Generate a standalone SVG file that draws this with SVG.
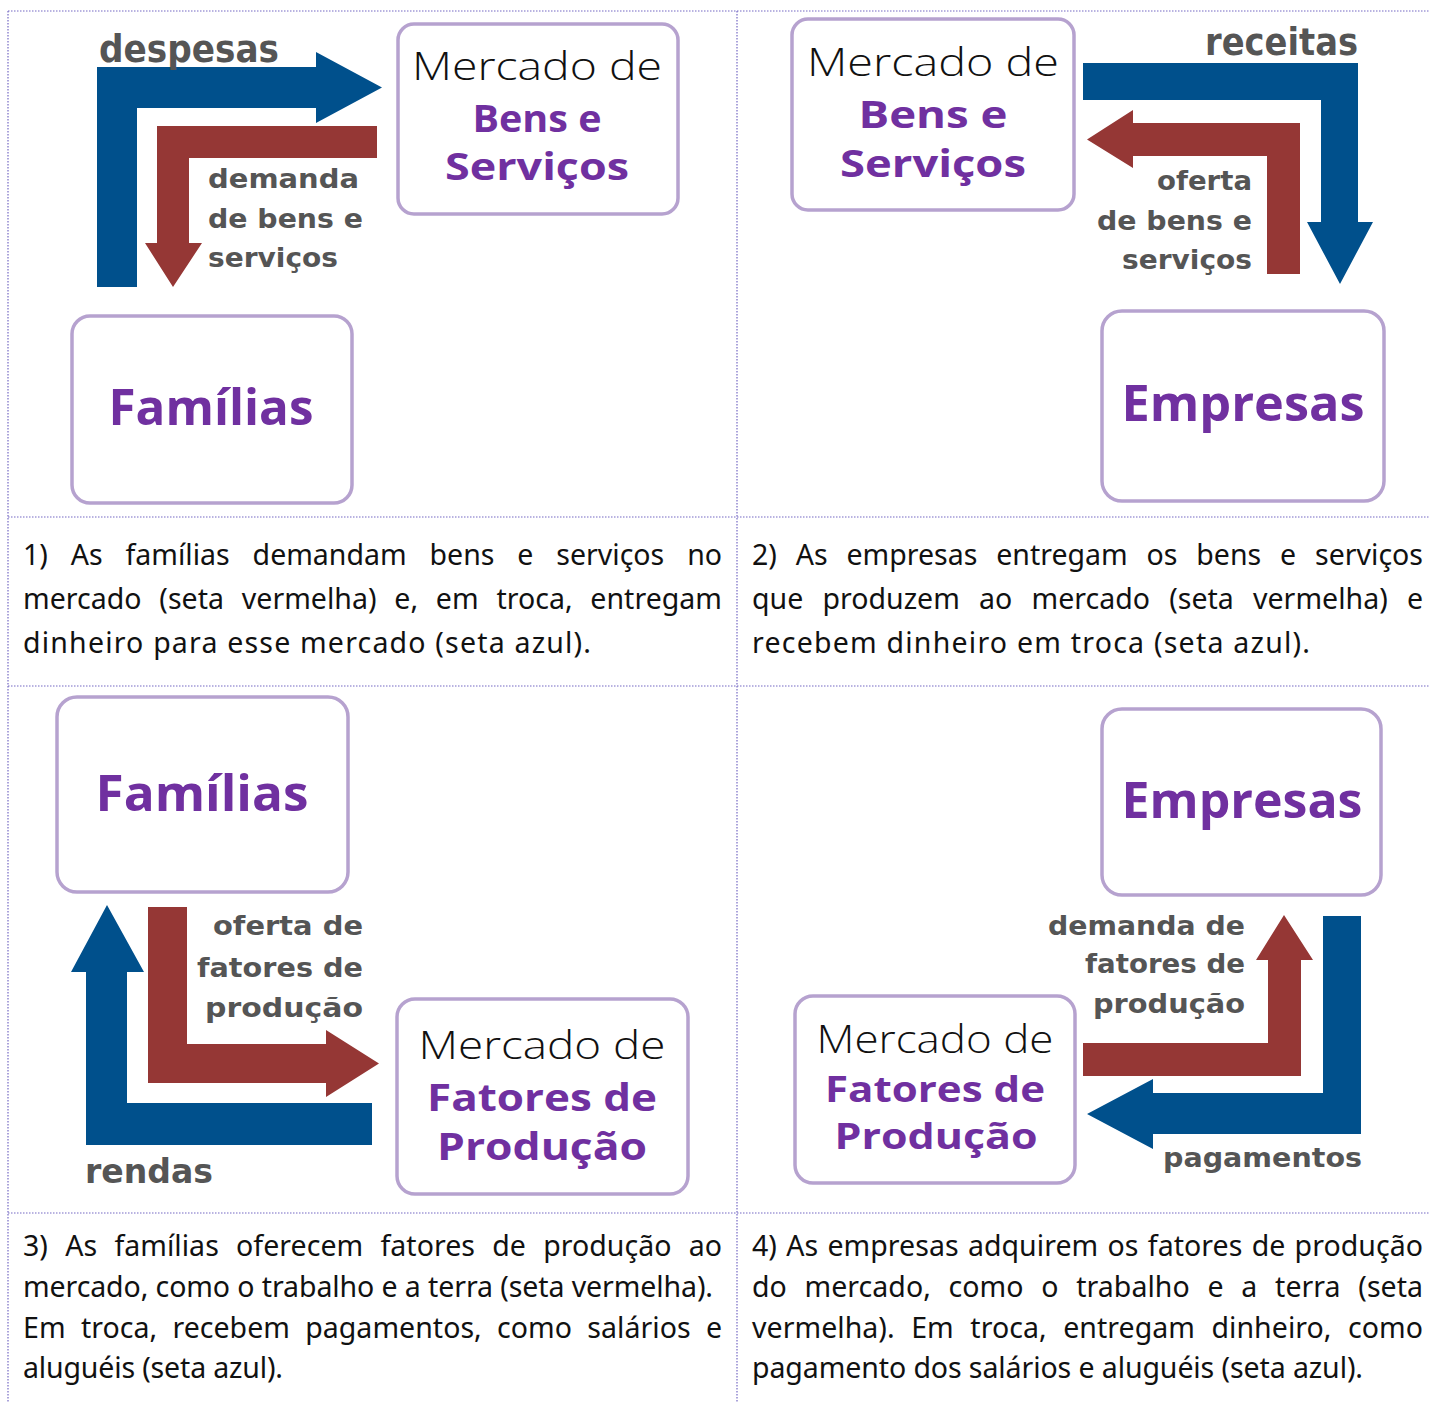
<svg xmlns="http://www.w3.org/2000/svg" width="1429" height="1402" viewBox="0 0 1429 1402">
<style>
.grid{stroke:#7468c4;stroke-width:1.2;stroke-dasharray:1.5 1.5;fill:none}
.box{fill:#fff;stroke:#b6a2cf;stroke-width:3.5}
.mk{font-family:"Open Sans","Liberation Sans",sans-serif;font-weight:300;font-size:38px;fill:#111;text-anchor:middle}
.pb{font-family:"Open Sans","Liberation Sans",sans-serif;font-weight:700;font-size:38px;fill:#7030a0;text-anchor:middle}
.ps{font-size:35px}
.big{font-family:"Open Sans","Liberation Sans",sans-serif;font-weight:700;font-size:50px;fill:#7030a0;text-anchor:middle}
.lb{font-family:"DejaVu Sans","Liberation Sans",sans-serif;font-weight:700;font-size:27px;fill:#555}
.lbb{font-family:"DejaVu Sans","Liberation Sans",sans-serif;font-weight:700;font-size:37px;fill:#555}
.cap{font-family:"Noto Sans","Liberation Sans",sans-serif;font-size:28.5px;fill:#111}
.blue{fill:#00508c}
.red{fill:#953735}
</style>
<rect width="1429" height="1402" fill="#fff"/>
<g id="grid">
<line class="grid" x1="8" y1="11" x2="1429" y2="11"/>
<line class="grid" x1="8" y1="11" x2="8" y2="1402"/>
<line class="grid" x1="737" y1="11" x2="737" y2="1402"/>
<line class="grid" x1="8" y1="517" x2="1429" y2="517"/>
<line class="grid" x1="8" y1="686" x2="1429" y2="686"/>
<line class="grid" x1="8" y1="1213" x2="1429" y2="1213"/>
</g>
<g id="connectors">
<polygon class="blue" points="97,287 97,67 316,67 316,52 382,87.5 316,123 316,108 137,108 137,287"/>
<polygon class="red" points="377,126 157,126 157,243 145,243 173,287 202,243 189,243 189,158 377,158"/>
<polygon class="blue" points="1083,63 1358,63 1358,222 1373,222 1340,284 1307,222 1321,222 1321,100 1083,100"/>
<polygon class="red" points="1300,274 1267,274 1267,156 1133,156 1133,168 1087,139.5 1133,110 1133,123 1300,123"/>
<polygon class="blue" points="372,1145 86,1145 86,972 71,972 107,905 144,972 127,972 127,1103 372,1103"/>
<polygon class="red" points="148,907 187,907 187,1044 326,1044 326,1030 379,1063.5 326,1097 326,1083 148,1083"/>
<polygon class="red" points="1083,1043 1268,1043 1268,960 1256,960 1284,915 1313,960 1301,960 1301,1076 1083,1076"/>
<polygon class="blue" points="1323,916 1361,916 1361,1134 1153,1134 1153,1149 1087,1114 1153,1079 1153,1093 1323,1093"/>
</g>
<g id="labels">
<text class="lbb" x="99" y="62" textLength="180" lengthAdjust="spacingAndGlyphs">despesas</text>
<text class="lb" x="208" y="188" textLength="151" lengthAdjust="spacingAndGlyphs">demanda</text>
<text class="lb" x="208" y="228" textLength="155" lengthAdjust="spacingAndGlyphs">de bens e</text>
<text class="lb" x="208" y="267" textLength="130" lengthAdjust="spacingAndGlyphs">serviços</text>
<text class="lbb" x="1205" y="55" textLength="153" lengthAdjust="spacingAndGlyphs">receitas</text>
<text class="lb" x="1157" y="190" textLength="95" lengthAdjust="spacingAndGlyphs">oferta</text>
<text class="lb" x="1097" y="230" textLength="155" lengthAdjust="spacingAndGlyphs">de bens e</text>
<text class="lb" x="1122" y="269" textLength="130" lengthAdjust="spacingAndGlyphs">serviços</text>
<text class="lb" x="213" y="935" textLength="150" lengthAdjust="spacingAndGlyphs">oferta de</text>
<text class="lb" x="197" y="977" textLength="166" lengthAdjust="spacingAndGlyphs">fatores de</text>
<text class="lb" x="205" y="1017" textLength="158" lengthAdjust="spacingAndGlyphs">produção</text>
<text class="lbb" x="85" y="1183" textLength="128" lengthAdjust="spacingAndGlyphs" style="font-size:33px">rendas</text>
<text class="lb" x="1048" y="935" textLength="197" lengthAdjust="spacingAndGlyphs">demanda de</text>
<text class="lb" x="1085" y="973" textLength="160" lengthAdjust="spacingAndGlyphs">fatores de</text>
<text class="lb" x="1093" y="1013" textLength="152" lengthAdjust="spacingAndGlyphs">produção</text>
<text class="lb" x="1163" y="1167" textLength="199" lengthAdjust="spacingAndGlyphs">pagamentos</text>
</g>
<g id="mercado-bens-1">
<rect class="box" x="398" y="24" width="280" height="190" rx="16"/>
<text class="mk" x="537" y="80" textLength="250" lengthAdjust="spacingAndGlyphs">Mercado de</text>
<text class="pb" x="537" y="132" textLength="129" lengthAdjust="spacingAndGlyphs">Bens e</text>
<text class="pb" x="537" y="180" textLength="184" lengthAdjust="spacingAndGlyphs">Serviços</text>
</g>
<g id="familias-1">
<rect class="box" x="72" y="316" width="280" height="187" rx="18"/>
<text class="big" x="211" y="425" textLength="205" lengthAdjust="spacingAndGlyphs">Famílias</text>
</g>
<g id="mercado-bens-2">
<rect class="box" x="792" y="19" width="282" height="191" rx="16"/>
<text class="mk" x="933" y="76" textLength="252" lengthAdjust="spacingAndGlyphs">Mercado de</text>
<text class="pb" x="933" y="128" textLength="149" lengthAdjust="spacingAndGlyphs">Bens e</text>
<text class="pb" x="933" y="177" textLength="186" lengthAdjust="spacingAndGlyphs">Serviços</text>
</g>
<g id="empresas-2">
<rect class="box" x="1102" y="311" width="282" height="190" rx="20"/>
<text class="big" x="1243" y="421" textLength="243" lengthAdjust="spacingAndGlyphs">Empresas</text>
</g>
<g id="familias-3">
<rect class="box" x="57" y="697" width="291" height="195" rx="20"/>
<text class="big" x="202" y="811" textLength="213" lengthAdjust="spacingAndGlyphs">Famílias</text>
</g>
<g id="mercado-fatores-3">
<rect class="box" x="397" y="999" width="291" height="195" rx="18"/>
<text class="mk" x="542" y="1059" textLength="247" lengthAdjust="spacingAndGlyphs">Mercado de</text>
<text class="pb" x="542" y="1111" textLength="230" lengthAdjust="spacingAndGlyphs">Fatores de</text>
<text class="pb" x="542" y="1160" textLength="210" lengthAdjust="spacingAndGlyphs">Produção</text>
</g>
<g id="empresas-4">
<rect class="box" x="1102" y="709" width="279" height="186" rx="20"/>
<text class="big" x="1242" y="818" textLength="241" lengthAdjust="spacingAndGlyphs">Empresas</text>
</g>
<g id="mercado-fatores-4">
<rect class="box" x="795" y="996" width="280" height="187" rx="18"/>
<text class="mk" x="935" y="1053" textLength="237" lengthAdjust="spacingAndGlyphs">Mercado de</text>
<text class="pb ps" x="935" y="1102" textLength="220" lengthAdjust="spacingAndGlyphs">Fatores de</text>
<text class="pb ps" x="936" y="1149" textLength="203" lengthAdjust="spacingAndGlyphs">Produção</text>
</g>
<g id="caption-1">
<text class="cap" x="23" y="565" word-spacing="15.5" textLength="699" lengthAdjust="spacing">1) As famílias demandam bens e serviços no</text>
<text class="cap" x="23" y="609" word-spacing="10.3" textLength="699" lengthAdjust="spacing">mercado (seta vermelha) e, em troca, entregam</text>
<text class="cap" x="23" y="653" textLength="568" lengthAdjust="spacing">dinheiro para esse mercado (seta azul).</text>
</g>
<g id="caption-2">
<text class="cap" x="752" y="565" word-spacing="11.4" textLength="671" lengthAdjust="spacing">2) As empresas entregam os bens e serviços</text>
<text class="cap" x="752" y="609" word-spacing="11.7" textLength="671" lengthAdjust="spacing">que produzem ao mercado (seta vermelha) e</text>
<text class="cap" x="752" y="653" textLength="558" lengthAdjust="spacing">recebem dinheiro em troca (seta azul).</text>
</g>
<g id="caption-3">
<text class="cap" x="23" y="1256" word-spacing="9.8" textLength="699" lengthAdjust="spacing">3) As famílias oferecem fatores de produção ao</text>
<text class="cap" x="23" y="1297" textLength="690" lengthAdjust="spacing">mercado, como o trabalho e a terra (seta vermelha).</text>
<text class="cap" x="23" y="1338" word-spacing="7.9" textLength="699" lengthAdjust="spacing">Em troca, recebem pagamentos, como salários e</text>
<text class="cap" x="23" y="1378" textLength="260" lengthAdjust="spacing">aluguéis (seta azul).</text>
</g>
<g id="caption-4">
<text class="cap" x="752" y="1256" word-spacing="1.8" textLength="671" lengthAdjust="spacing">4) As empresas adquirem os fatores de produção</text>
<text class="cap" x="752" y="1297" word-spacing="10.3" textLength="671" lengthAdjust="spacing">do mercado, como o trabalho e a terra (seta</text>
<text class="cap" x="752" y="1338" word-spacing="9.1" textLength="671" lengthAdjust="spacing">vermelha). Em troca, entregam dinheiro, como</text>
<text class="cap" x="752" y="1378" textLength="611" lengthAdjust="spacing">pagamento dos salários e aluguéis (seta azul).</text>
</g>
</svg>
